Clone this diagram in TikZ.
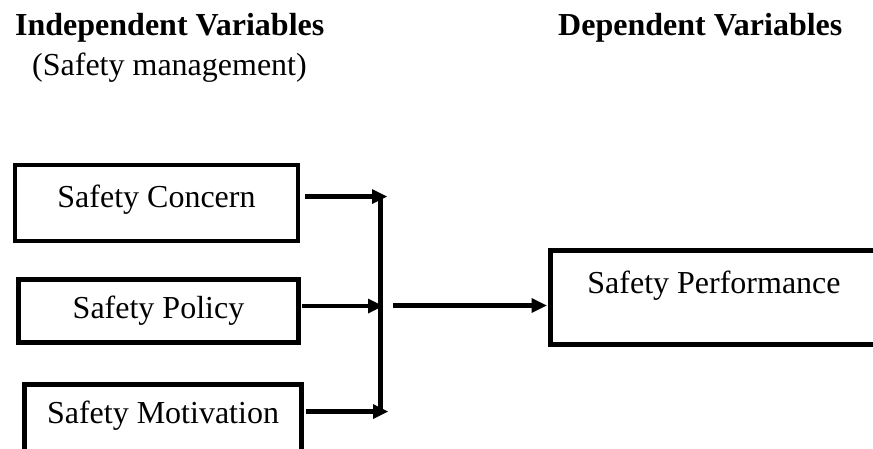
\documentclass[tikz,border=0pt]{standalone}
\usepackage{fontspec}
\setmainfont{Liberation Serif}
\usetikzlibrary{arrows.meta,calc}
\begin{document}
\begin{tikzpicture}[x=1pt,y=-1pt,
  txt/.style={font=\fontsize{32}{38}\selectfont},
  box/.style={txt,draw,line width=4.6pt,inner sep=0pt},
  heading/.style={anchor=base west,inner sep=0pt,font=\fontsize{32}{38}\selectfont\bfseries},
  subheading/.style={anchor=base west,inner sep=0pt,txt},
  link/.style={line width=4.6pt,-{Triangle[length=15pt,width=15pt,line width=0pt]}},
  bar/.style={line width=4.6pt}]
\useasboundingbox (0,0) rectangle (873,448);

% headings
\node[heading] (indep) at (15,35) {Independent Variables};
\node[subheading] (mgmt) at (32,75) {(Safety management)};
\node[heading] (dep) at (558,35) {Dependent Variables};

% independent variable boxes
\node[box,minimum width=283pt,minimum height=76pt,text height=22pt,text depth=14pt]
  (concern) at (156.5,203) {Safety Concern};
\node[box,minimum width=280pt,minimum height=63pt]
  (policy) at (158.5,311) {Safety Policy};
\node[box,minimum width=277pt,minimum height=90pt,text height=22pt,text depth=35pt]
  (motiv) at (163,429.5) {Safety Motivation};

% dependent variable box
\node[box,minimum width=327pt,minimum height=94pt,text height=22pt,text depth=31pt]
  (perf) at (714,297.5) {Safety Performance};

% collector bar and arrow ends
\coordinate (t1) at (387,196.5);
\coordinate (t2) at (383,306);
\coordinate (t3) at (388,411.5);
\coordinate (bartop) at (380.5,195);
\coordinate (barbot) at (380.5,414);
\coordinate (outstart) at (393,305.5);

\draw[link] ($(concern.east |- t1)+(5,0)$) -- (t1);
\draw[link] ($(policy.east |- t2)+(1.5,0)$) -- (t2);
\draw[link] ($(motiv.east |- t3)+(2.5,0)$) -- (t3);
\draw[bar] (bartop) -- (barbot);
\draw[link] (outstart) -- ($(perf.west |- outstart)+(-1.5,0)$);
\end{tikzpicture}
\end{document}
